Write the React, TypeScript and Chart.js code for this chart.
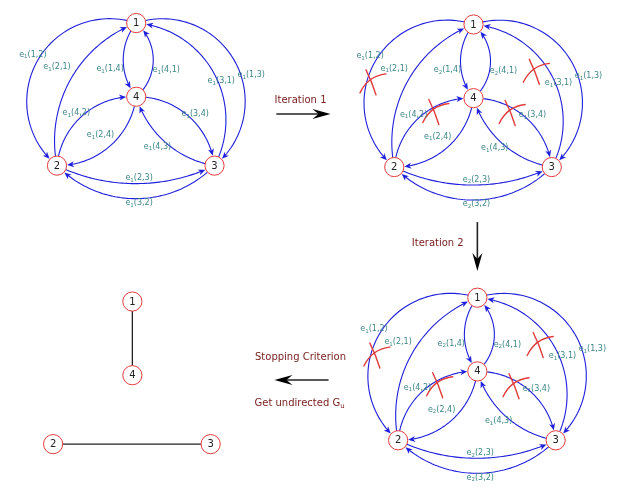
import { useEffect, useRef } from 'react';
import { Chart, registerables } from 'chart.js';

Chart.register(...registerables);

const W = 631;
const H = 493;

// Node layout of the base graph (nodes 1..4)
const nodeNames = ['1', '2', '3', '4'];
const nodeX = [130, 48, 211, 130];
const nodeY = [13, 162, 162, 90];

// Panels: start graph, after iteration 1, after iteration 2, final undirected graph
const panelDX = [0, 349, 353, -4];
const panelDY = [0, 1.5, 287, 291];

// Directed edges (curved), drawn in panels 0..2
const edgeFrom = [1, 2, 1, 4, 3, 1, 2, 4, 4, 3, 2, 3];
const edgeTo = [2, 1, 4, 1, 1, 3, 4, 3, 2, 4, 3, 2];
const edgeBend = [-68, 30, -13, -17, -44, 68, 21, 20, 20, 15, -18, 33];

// Edge labels
const edgeLabelPair = ['1,2', '2,1', '1,4', '4,1', '3,1', '1,3', '4,2', '3,4', '2,4', '4,3', '2,3', '3,2'];
const edgeLabelX = [23, 48, 103, 161, 218, 249, 68, 191, 93, 152, 133, 133];
const edgeLabelY = [46, 59, 61, 62, 74, 67, 107, 108, 130, 142, 175, 201];
const subsPanel0 = [1, 1, 1, 1, 1, 1, 1, 1, 1, 1, 1, 1];
const subsPanel1 = [1, 1, 2, 2, 1, 1, 1, 1, 1, 1, 2, 2];
const subsPanel2 = [1, 1, 2, 2, 1, 1, 1, 1, 2, 1, 2, 2];
const panelSubs = [subsPanel0, subsPanel1, subsPanel2];

// Removed-edge crosses (panels 1 and 2)
const cutX = [26, 91, 170, 195];
const cutY = [74, 105, 106, 63];

// Final undirected edges (panel 3)
const finalFrom = [1, 2];
const finalTo = [4, 3];

// Flow arrows between panels
const flowX1 = [275, 483, 329];
const flowY1 = [108, 221, 386];
const flowX2 = [331, 483, 273];
const flowY2 = [108, 272, 386];
const flowText = ['Iteration 1', 'Iteration 2', 'Stopping Criterion', 'Get undirected G'];
const flowTextSub = ['', '', '', 'u'];
const flowTextX = [300, 442, 300, 299];
const flowTextY = [94, 243, 362, 410];

const FONT = '"DejaVu Sans", Verdana, sans-serif';
const NODE_R = 9.6;
const BLUE = '#1f1fdc';
const RED = '#e23b3b';
const TEAL = '#3e8686';
const DARKRED = '#7a2222';

function norm(a: number) {
  while (a > Math.PI) a -= 2 * Math.PI;
  while (a <= -Math.PI) a += 2 * Math.PI;
  return a;
}

function arrowHead(ctx: CanvasRenderingContext2D, x: number, y: number, tx: number, ty: number, len: number, half: number, notch: number, color: string) {
  const nx = -ty, ny = tx;
  ctx.beginPath();
  ctx.moveTo(x, y);
  ctx.lineTo(x - tx * len + nx * half, y - ty * len + ny * half);
  ctx.lineTo(x - tx * notch, y - ty * notch);
  ctx.lineTo(x - tx * len - nx * half, y - ty * len - ny * half);
  ctx.closePath();
  ctx.fillStyle = color;
  ctx.fill();
}

function drawArcEdge(ctx: CanvasRenderingContext2D, x1: number, y1: number, x2: number, y2: number, s: number, r: number) {
  const dx = x2 - x1, dy = y2 - y1;
  const L = Math.hypot(dx, dy);
  const ux = dx / L, uy = dy / L;
  const nx = uy, ny = -ux;
  const mx = (x1 + x2) / 2, my = (y1 + y2) / 2;
  const R = (L * L / 4 + s * s) / (2 * s);
  const cx = mx + nx * (s - R), cy = my + ny * (s - R);
  const rad = Math.abs(R);
  const a1 = Math.atan2(y1 - cy, x1 - cx);
  const a2 = Math.atan2(y2 - cy, x2 - cx);
  const am = Math.atan2(my + ny * s - cy, mx + nx * s - cx);
  let d = norm(a2 - a1);
  const dm = norm(am - a1);
  if (Math.sign(dm) !== Math.sign(d) || Math.abs(dm) > Math.abs(d)) d = d - Math.sign(d) * 2 * Math.PI;
  const sg = Math.sign(d);
  const t = 2 * Math.asin(Math.min(1, r / (2 * rad))) * sg;
  const start = a1 + t;
  const end = a1 + d - t;
  const ex = cx + rad * Math.cos(end), ey = cy + rad * Math.sin(end);
  const tx = -Math.sin(end) * sg, ty = Math.cos(end) * sg;
  // stop the line slightly before tip
  const back = 4 / rad * sg;
  const lineEnd = end - back;
  ctx.beginPath();
  const N = 60;
  for (let i = 0; i <= N; i++) {
    const a = start + (lineEnd - start) * i / N;
    const px = cx + rad * Math.cos(a), py = cy + rad * Math.sin(a);
    if (i === 0) ctx.moveTo(px, py); else ctx.lineTo(px, py);
  }
  ctx.strokeStyle = BLUE;
  ctx.lineWidth = 1.1;
  ctx.stroke();
  arrowHead(ctx, ex, ey, tx, ty, 7, 3, 5, BLUE);
}

function drawSubText(ctx: CanvasRenderingContext2D, main: string, sub: string, rest: string, x: number, y: number, size: number, subSize: number, color: string) {
  ctx.font = `${size}px ${FONT}`;
  const w1 = ctx.measureText(main).width;
  const w3 = ctx.measureText(rest).width;
  ctx.font = `${subSize}px ${FONT}`;
  const w2 = sub ? ctx.measureText(sub).width : 0;
  const total = w1 + w2 + w3;
  let cx = x - total / 2;
  ctx.fillStyle = color;
  ctx.textBaseline = 'middle';
  ctx.textAlign = 'left';
  ctx.font = `${size}px ${FONT}`;
  ctx.fillText(main, cx, y);
  cx += w1;
  if (sub) {
    ctx.font = `${subSize}px ${FONT}`;
    ctx.fillText(sub, cx, y + size * 0.3);
    cx += w2;
  }
  ctx.font = `${size}px ${FONT}`;
  ctx.fillText(rest, cx, y);
}

const diagramPlugin = {
  id: 'diagram',
  beforeDatasetsDraw(chart: any) {
    const ctx: CanvasRenderingContext2D = chart.ctx;
    const xs = chart.scales.x, ys = chart.scales.y;
    const px = (p: number, n: number) => xs.getPixelForValue(nodeX[n] + panelDX[p]);
    const py = (p: number, n: number) => ys.getPixelForValue(nodeY[n] + panelDY[p]);
    ctx.save();
    ctx.lineCap = 'round';
    for (let p = 0; p < 3; p++) {
      for (let e = 0; e < edgeFrom.length; e++) {
        const a = edgeFrom[e] - 1, b = edgeTo[e] - 1;
        drawArcEdge(ctx, px(p, a), py(p, a), px(p, b), py(p, b), edgeBend[e], NODE_R + 0.5);
      }
    }
    // final undirected edges
    for (let e = 0; e < finalFrom.length; e++) {
      const a = finalFrom[e] - 1, b = finalTo[e] - 1;
      const x1 = px(3, a), y1 = py(3, a), x2 = px(3, b), y2 = py(3, b);
      const L = Math.hypot(x2 - x1, y2 - y1);
      const ux = (x2 - x1) / L, uy = (y2 - y1) / L;
      ctx.beginPath();
      ctx.moveTo(x1 + ux * NODE_R, y1 + uy * NODE_R);
      ctx.lineTo(x2 - ux * NODE_R, y2 - uy * NODE_R);
      ctx.strokeStyle = '#222';
      ctx.lineWidth = 1.3;
      ctx.stroke();
    }
    // crosses on removed edges
    for (let p = 1; p < 3; p++) {
      for (let c = 0; c < cutX.length; c++) {
        const cx = xs.getPixelForValue(cutX[c] + panelDX[p]);
        const cy = ys.getPixelForValue(cutY[c] + panelDY[p]);
        ctx.strokeStyle = RED;
        ctx.lineWidth = 1.4;
        ctx.beginPath();
        ctx.moveTo(cx - 13, cy + 10);
        ctx.quadraticCurveTo(cx - 5, cy - 7, cx + 13, cy - 9);
        ctx.stroke();
        ctx.beginPath();
        ctx.moveTo(cx - 7, cy - 13);
        ctx.quadraticCurveTo(cx - 1, cy - 1, cx + 3, cy + 12);
        ctx.stroke();
      }
    }
    // flow arrows
    for (let f = 0; f < flowX1.length; f++) {
      const x1 = xs.getPixelForValue(flowX1[f]), y1 = ys.getPixelForValue(flowY1[f]);
      const x2 = xs.getPixelForValue(flowX2[f]), y2 = ys.getPixelForValue(flowY2[f]);
      const L = Math.hypot(x2 - x1, y2 - y1);
      const ux = (x2 - x1) / L, uy = (y2 - y1) / L;
      ctx.beginPath();
      ctx.moveTo(x1, y1);
      ctx.lineTo(x2 - ux * 10, y2 - uy * 10);
      ctx.strokeStyle = '#222';
      ctx.lineWidth = 1.6;
      ctx.lineCap = 'butt';
      ctx.stroke();
      arrowHead(ctx, x2, y2, ux, uy, 18, 5, 12, '#000');
    }
    ctx.restore();
  },
  afterDatasetsDraw(chart: any) {
    const ctx: CanvasRenderingContext2D = chart.ctx;
    const xs = chart.scales.x, ys = chart.scales.y;
    ctx.save();
    // node names
    ctx.font = `10px ${FONT}`;
    ctx.fillStyle = '#222';
    ctx.textAlign = 'center';
    ctx.textBaseline = 'middle';
    for (let p = 0; p < 4; p++) {
      for (let n = 0; n < nodeNames.length; n++) {
        ctx.fillText(nodeNames[n], xs.getPixelForValue(nodeX[n] + panelDX[p]), ys.getPixelForValue(nodeY[n] + panelDY[p]) + 0.5);
      }
    }
    // edge labels
    for (let p = 0; p < 3; p++) {
      for (let e = 0; e < edgeLabelPair.length; e++) {
        drawSubText(ctx, 'e', String(panelSubs[p][e]), `(${edgeLabelPair[e]})`,
          xs.getPixelForValue(edgeLabelX[e] + panelDX[p]), ys.getPixelForValue(edgeLabelY[e] + panelDY[p]), 8, 5.5, TEAL);
      }
    }
    // flow texts
    for (let f = 0; f < flowText.length; f++) {
      drawSubText(ctx, flowText[f], flowTextSub[f], '', xs.getPixelForValue(flowTextX[f]), ys.getPixelForValue(flowTextY[f]), 10, 7, DARKRED);
    }
    ctx.restore();
  },
};

export default function App() {
  const ref = useRef<HTMLCanvasElement | null>(null);
  useEffect(() => {
    document.body.style.margin = '0';
    if (!ref.current) return;
    const datasets = panelDX.map((dx, p) => ({
      label: `panel ${p}`,
      data: nodeX.map((x, i) => ({ x: x + dx, y: nodeY[i] + panelDY[p] })),
      pointRadius: NODE_R,
      pointHoverRadius: NODE_R,
      pointBackgroundColor: '#ffffff',
      pointBorderColor: RED,
      pointBorderWidth: 1,
      showLine: false,
      clip: false as any,
    }));
    const chart = new Chart(ref.current, {
      type: 'scatter',
      data: { datasets },
      options: {
        animation: false,
        responsive: false,
        maintainAspectRatio: false,
        devicePixelRatio: window.devicePixelRatio || 1,
        layout: { padding: 0 },
        events: [],
        plugins: { legend: { display: false }, tooltip: { enabled: false } },
        scales: {
          x: { type: 'linear', min: 0, max: W, display: false },
          y: { type: 'linear', min: 0, max: H, reverse: true, display: false },
        },
      },
      plugins: [diagramPlugin],
    });
    return () => chart.destroy();
  }, []);
  return (
    <div style={{ position: 'absolute', left: 0, top: 0, width: W, height: H, background: '#fff' }}>
      <canvas ref={ref} width={W} height={H} style={{ width: W, height: H, display: 'block' }} />
    </div>
  );
}
